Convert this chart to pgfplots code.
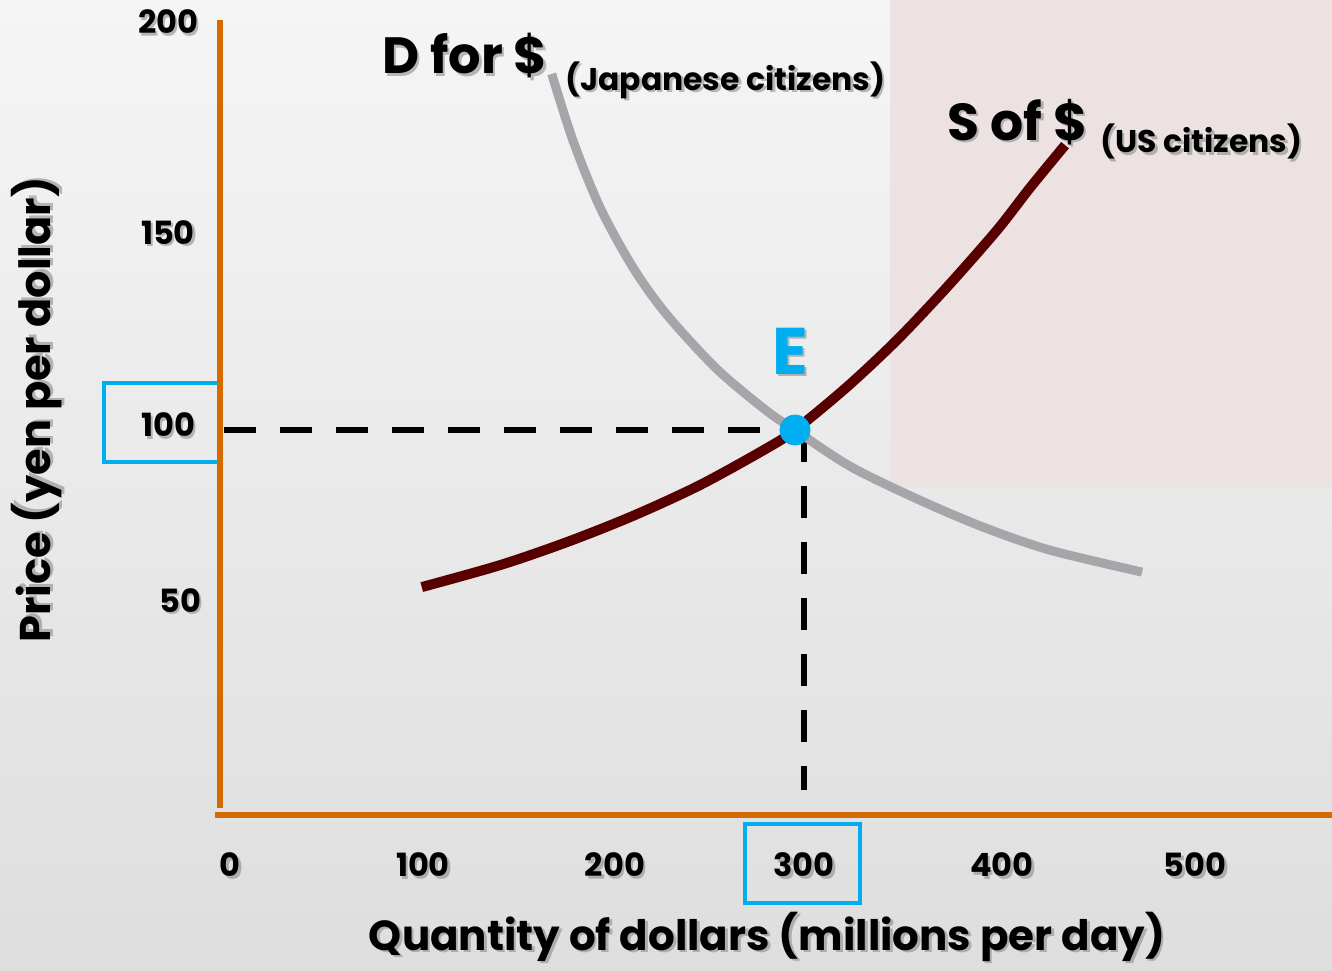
\documentclass[border=0pt]{standalone}
\usepackage{pgfplots}
\pgfplotsset{compat=1.18}
\usepackage{fontspec}
\setmainfont{Poppins}
\definecolor{axorange}{RGB}{212,106,0}
\definecolor{supred}{RGB}{88,0,0}
\definecolor{demgray}{RGB}{165,165,170}
\definecolor{eblue}{RGB}{0,174,239}
\definecolor{bgtop}{RGB}{245,245,245}
\definecolor{bgbot}{RGB}{222,222,222}
\definecolor{pinkbox}{RGB}{236,226,226}
\newcommand{\stxt}[3]{%
  \node[#1, text=black!45, opacity=0.6, xshift=1.3pt, yshift=-1.3pt] at (#2) {#3};
  \node[#1] at (#2) {#3};}
\begin{document}
\begin{tikzpicture}
\begin{axis}[
  width=666pt, height=485pt, scale only axis,
  xmin=-113.4, xmax=573.2, ymin=-40.26, ymax=211.7,
  axis lines=none, clip=false,
]
% background
\fill[top color=bgtop, bottom color=bgbot] (axis cs:-113.4,-40.26) rectangle (axis cs:573.2,211.7);
\fill[pinkbox] (axis cs:345.4,84.9) rectangle (axis cs:573.2,211.7);
% axes
\draw[axorange, line width=3pt] (axis cs:0,1.8) -- (axis cs:0,206.5);
\draw[axorange, line width=3pt] (axis cs:-2.6,0) -- (axis cs:573.2,0);
% dashed guides
\addplot[black, line width=3pt, dash pattern=on 16pt off 12pt] coordinates {(2,100) (296.4,100)};
\addplot[black, line width=3pt, dash pattern=on 16pt off 12pt] coordinates {(301,100) (301,6.5)};
% demand
\addplot[demgray, line width=4.5pt, smooth, tension=0.5] coordinates {
(171,192.5) (182,175.1) (196,157.7) (213,142.1) (230.4,129.9) (256.2,115.8)
(282,104.9) (296.4,100) (324.7,90.6) (359.3,82.1) (393.3,74.8) (427.8,68.8) (475.3,63.1)};
% supply
\addplot[supred, line width=5pt, smooth, tension=0.5] coordinates {
(104,59.2) (144.3,64.9) (178.9,70.9) (212.9,77.7) (247.4,85.7) (282,95.3)
(296.4,100) (323.2,111.2) (349,123.4) (374.7,137.1) (400.5,151.9) (417.5,162.9) (435.6,174.0)};
% equilibrium point
\addplot[only marks, mark=*, mark size=7.5pt, eblue, mark options={draw=eblue, fill=eblue}] coordinates {(296.4,100)};
% blue boxes
\draw[eblue, line width=2pt] (axis cs:-1,91.7) -- (axis cs:-59.8,91.7) -- (axis cs:-59.8,112.2) -- (axis cs:-1,112.2);
\draw[eblue, line width=2pt] (axis cs:270.6,-2.3) rectangle (axis cs:330,-22.9);
% tick labels
\stxt{font=\fontsize{16}{16}\bfseries}{axis cs:-26.8,206}{200}
\stxt{font=\fontsize{16}{16}\bfseries}{axis cs:-26.8,151.4}{150}
\stxt{font=\fontsize{16}{16}\bfseries}{axis cs:-26.8,101.3}{100}
\stxt{font=\fontsize{16}{16}\bfseries}{axis cs:-20.5,55.8}{50}
\stxt{font=\fontsize{16}{16}\bfseries}{axis cs:5.2,-13}{0}
\stxt{font=\fontsize{16}{16}\bfseries}{axis cs:104.6,-13}{100}
\stxt{font=\fontsize{16}{16}\bfseries}{axis cs:203.6,-13}{200}
\stxt{font=\fontsize{16}{16}\bfseries}{axis cs:301,-13}{300}
\stxt{font=\fontsize{16}{16}\bfseries}{axis cs:403,-13}{400}
\stxt{font=\fontsize{16}{16}\bfseries}{axis cs:502.6,-13}{500}
% axis labels
\stxt{font=\fontsize{21}{21}\bfseries, anchor=base, inner sep=0pt}{axis cs:282,-35.1}{Quantity of dollars (millions per day)}
\stxt{font=\fontsize{21.5}{21.5}\bfseries, rotate=90}{axis cs:-94.3,105.2}{Price (yen per dollar)}
% curve labels
\stxt{font=\fontsize{25.5}{25.5}\bfseries, anchor=base west, inner sep=0pt}{axis cs:83.5,192.5}{D for \$}
\stxt{font=\fontsize{15.7}{15.7}\bfseries, anchor=base west, inner sep=0pt}{axis cs:177.8,188.3}{(Japanese citizens)}
\stxt{font=\fontsize{26}{26}\bfseries, anchor=base west, inner sep=0pt}{axis cs:374.7,175.3}{S of \$}
\stxt{font=\fontsize{15.7}{15.7}\bfseries, anchor=base west, inner sep=0pt}{axis cs:453.6,172.0}{(US citizens)}
\stxt{font=\fontsize{33}{33}\bfseries, text=eblue}{axis cs:293.8,120.5}{E}
\end{axis}
\pgfresetboundingbox
\useasboundingbox (current axis.south west) rectangle (current axis.north east);
\end{tikzpicture}
\end{document}
